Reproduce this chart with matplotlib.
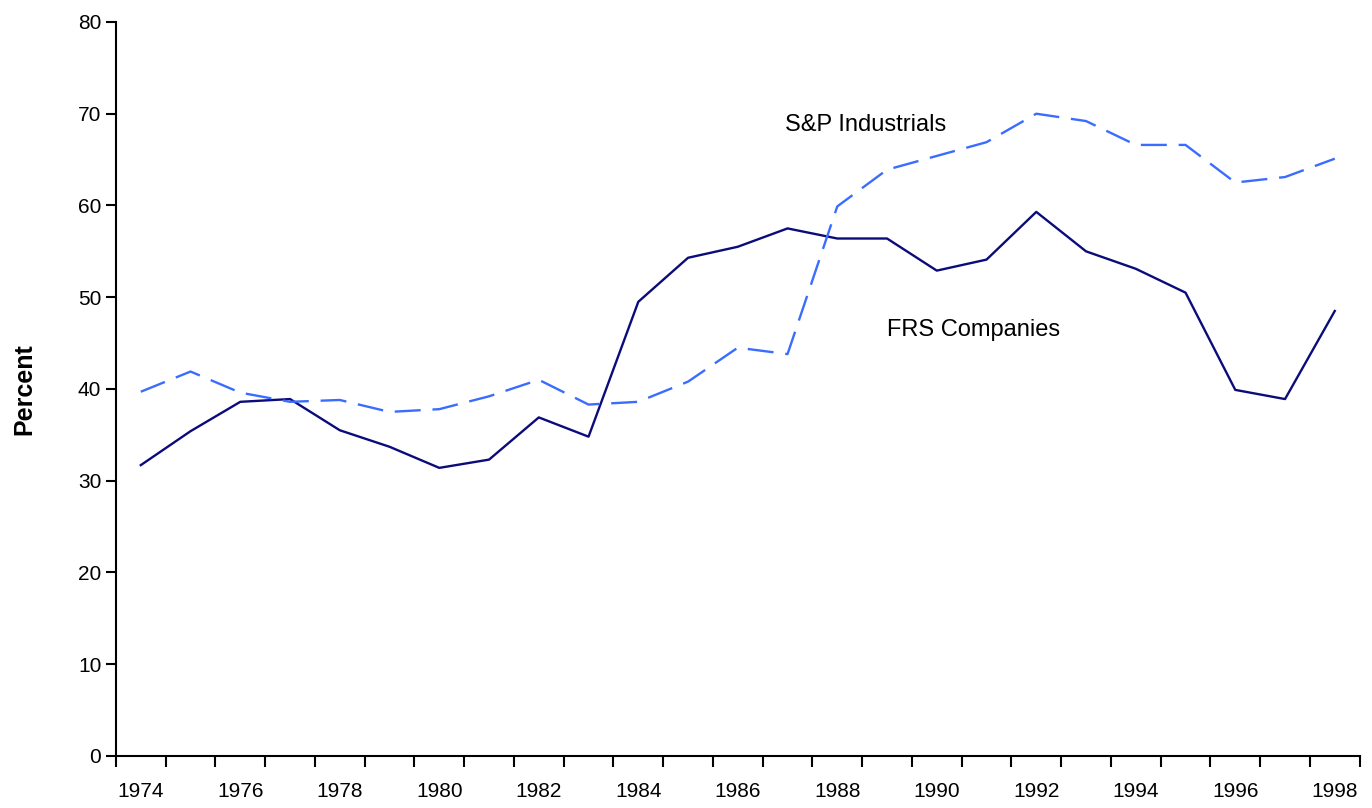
import matplotlib.pyplot as plt
import numpy as np

plt.rcParams['font.family'] = ['Liberation Sans', 'DejaVu Sans']

years = list(range(1974, 1999))
frs_companies = [31.7, 35.4, 38.6, 38.9, 35.5, 33.7, 31.4, 32.3, 36.9, 34.8,
                 49.5, 54.3, 55.5, 57.5, 56.4, 56.4, 52.9, 54.1, 59.3, 55.0,
                 53.1, 50.5, 39.9, 38.9, 48.5]
sp_industrials = [39.7, 41.9, 39.6, 38.6, 38.8, 37.5, 37.8, 39.2, 41.0, 38.3,
                  38.6, 40.8, 44.5, 43.8, 59.9, 63.9, 65.4, 66.9, 70.0, 69.2,
                  66.6, 66.6, 62.5, 63.1, 65.1]
year_labels = [str(y) for y in range(1974, 1999, 2)]

fig = plt.figure(figsize=(13.72, 8.08), dpi=100)
ax = fig.add_axes([0.0845, 0.0644, 0.9065, 0.9084])

ax.plot(years, frs_companies, color='#0b0b7a', linewidth=1.7)
ax.plot(years, sp_industrials, color='#3a6dff', linewidth=1.7,
        dashes=(11, 5))

# labels sit at the middle of each year, ticks mark the year boundaries
ax.set_xlim(1973.5, 1998.5)
ax.set_ylim(0, 80)
ax.set_xticks(range(1974, 1999, 2))
ax.set_xticklabels(year_labels, fontsize=15)
ax.set_xticks(np.arange(1973.5, 1999, 1), minor=True)
ax.tick_params(axis='x', which='major', length=0, pad=19)
ax.tick_params(axis='x', which='minor', length=8, width=1.5, direction='out')
ax.set_yticks(range(0, 81, 10))
ax.tick_params(axis='y', labelsize=15, length=7, width=1.5, direction='out')

for side in ['top', 'right']:
    ax.spines[side].set_visible(False)
for side in ['left', 'bottom']:
    ax.spines[side].set_linewidth(1.5)

ax.set_ylabel('Percent', fontsize=18, fontweight='bold', labelpad=30)

ax.text(1986.95, 68.8, 'S&P Industrials', fontsize=17, va='center', ha='left')
ax.text(1989.0, 46.4, 'FRS Companies', fontsize=17, va='center', ha='left')

fig.savefig('out.png', dpi=100)
